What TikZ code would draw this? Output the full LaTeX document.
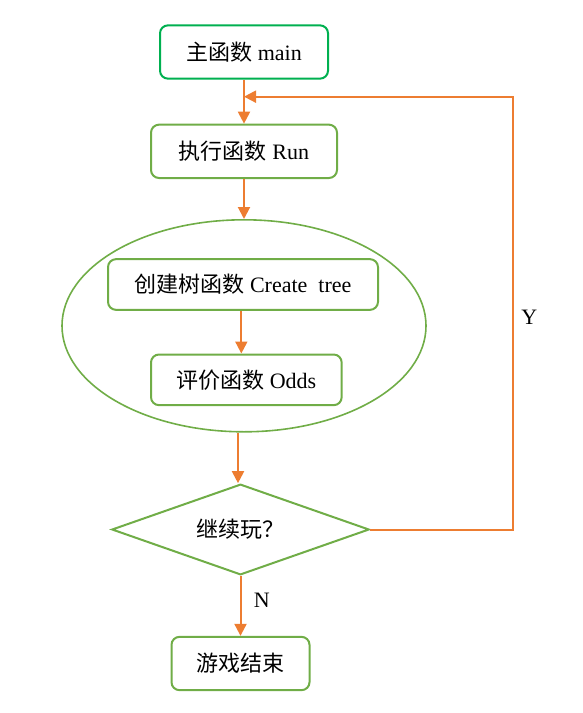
\documentclass[tikz,border=0pt]{standalone}
\usepackage{fontspec}
\setmainfont{Liberation Serif}
\newfontfamily\cjk{Noto Sans CJK SC}
\usepackage{tikz}
\usetikzlibrary{positioning,arrows.meta,calc,shapes.geometric}
\definecolor{gmain}{HTML}{00B050}
\definecolor{gbox}{HTML}{70AD47}
\definecolor{oflow}{HTML}{ED7D31}
\newcommand{\zh}[1]{{\cjk #1}}
\tikzset{
  box/.style    ={rounded corners=6pt, draw=gbox, line width=1.5pt, fill=white,
                  inner sep=3pt, align=center, font=\fontsize{16.5}{19}\selectfont,
                  minimum height=40pt},
  mbox/.style   ={box, draw=gmain},
  cbox/.style   ={box, shape=diamond, rounded corners=0pt, aspect=2.83, inner sep=0pt},
  ring/.style   ={ellipse, draw=gbox, line width=1.2pt},
  note/.style   ={font=\fontsize{16.5}{19}\selectfont},
  flow/.style   ={-{Triangle[length=9pt, width=9pt]}, line width=1.5pt, draw=oflow},
}

\begin{document}
\begin{tikzpicture}[x=0.75pt, y=-0.75pt]
  \useasboundingbox (0,0) rectangle (582,713);
  % main chain
  \node[mbox, minimum width=126pt] (main) at (244,52) {\zh{主函数} main};
  \node[box, below=33pt of main, minimum width=139.5pt] (run) {\zh{执行函数} Run};
  \node[ring, below=30pt of run, minimum width=273pt, minimum height=159pt] (group) {};
  \node[box, minimum width=202.5pt, minimum height=38pt] (create) at (243,284.5) {\zh{创建树函数} Create\ \ tree};
  \node[box, below=32pt of create, xshift=2.5pt, minimum width=143pt, minimum height=38pt] (odds) {\zh{评价函数} Odds};
  \node[cbox, minimum width=193pt, minimum height=68pt] (decide) at (240.5,529.5) {\zh{继续玩？}};
  \node[box, below=45pt of decide, minimum width=103.5pt] (stop) {\zh{游戏结束}};
  \coordinate (join) at ($(main.south)+(0,17)$);

  % flows
  \draw[flow] (main) -- (run);
  \draw[flow] (run) -- (group);
  \draw[flow] (create.south -| odds.north) ++(-5,0) -- ($(odds.north)+(-5,0)$);
  \draw[flow] (group.south) ++(-6,0) -- ($(decide.north)+(-2.5,0)$);
  \draw[flow] (decide) -- node[note, pos=0.4, right=6pt]{N} (stop);
  \draw[flow] (decide.east) -- ++(143,0) |- node[note, pos=0.245, right=2pt]{Y} (join);
\end{tikzpicture}
\end{document}
